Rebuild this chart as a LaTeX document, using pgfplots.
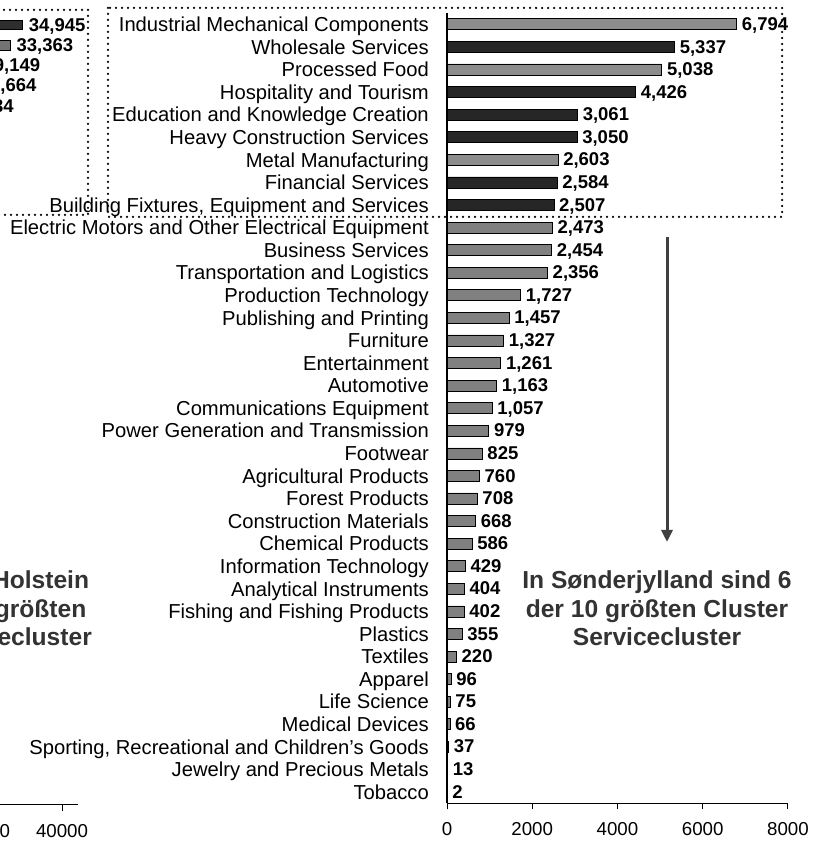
\documentclass[border=0pt]{standalone}
\usepackage{fontspec}
\setmainfont{Liberation Sans}
\usepackage{pgfplots}
\pgfplotsset{compat=1.18}
\usetikzlibrary{arrows.meta}
\begin{document}
\begin{tikzpicture}
\useasboundingbox (0,0) rectangle (828bp,843bp);
\clip (0,0) rectangle (828bp,843bp);
\pgfplotsset{
 clustax/.style={
  scale only axis, anchor=south west,
  xbar,
  axis x line=bottom, axis y line=left,
  axis line style={-, line width=1.1bp, black},
  tick align=outside, major tick length=6bp,
  xtick style={line width=1bp, black},
  ytick style={draw=none},
  scaled x ticks=false,
  /pgf/number format/assume math mode=true,
  /pgf/number format/1000 sep={},
  xticklabel style={font=\fontsize{18.7bp}{20bp}\selectfont, inner sep=0pt, text height=13.4bp, text depth=0pt, yshift=-13bp},
  yticklabel style={font=\fontsize{20.2bp}{22bp}\selectfont, inner sep=0pt, text height=14.5bp, text depth=0pt, xshift=-12bp},
  point meta=x,
  nodes near coords={\pgfmathprintnumber[1000 sep={,}, fixed, precision=0]{\pgfplotspointmeta}},
  every node near coord/.append style={font=\bfseries\fontsize{18.5bp}{20bp}\selectfont, anchor=west, inner sep=0pt, text height=13.3bp, text depth=0pt, xshift=5bp, yshift=0.5bp, text=black},
  clip=false,
 }
}
% left (cut-off) chart
\begin{axis}[clustax, at={(-250bp,38.4bp)}, width=328bp, height=789.75bp,
  xmin=0, xmax=42050, ymin=-0.5, ymax=38.5,
  xtick={0,10000,20000,30000,40000}, ytick=\empty, bar width=9.5bp,
  every node near coord/.append style={xshift=1bp}]
\addplot[bar shift=0pt, fill=black!82, draw=black, line width=0.6bp] coordinates {(34945,38)};
\addplot[bar shift=0pt, fill=black!55, draw=black, line width=0.6bp] coordinates {(33363,37) (29149,36) (28664,35) (25734,34)};
\end{axis}
% right chart
\begin{axis}[clustax, at={(447bp,39.7bp)}, width=341bp, height=790.3bp,
  xmin=0, xmax=8000, ymin=-0.5, ymax=34.5,
  xtick={0,2000,4000,6000,8000}, bar width=11bp,
  ytick={0,...,34},
  yticklabels={Tobacco, Jewelry and Precious Metals, {Sporting, Recreational and Children's Goods}, Medical Devices, Life Science, Apparel, Textiles, Plastics, Fishing and Fishing Products, Analytical Instruments, Information Technology, Chemical Products, Construction Materials, Forest Products, Agricultural Products, Footwear, Power Generation and Transmission, Communications Equipment, Automotive, Entertainment, Furniture, Publishing and Printing, Production Technology, Transportation and Logistics, Business Services, Electric Motors and Other Electrical Equipment, {Building Fixtures, Equipment and Services}, Financial Services, Metal Manufacturing, Heavy Construction Services, Education and Knowledge Creation, Hospitality and Tourism, Processed Food, Wholesale Services, Industrial Mechanical Components}]
\addplot[bar shift=0pt, fill=black!45, draw=black, line width=0.6bp] coordinates {(6794,34) (5038,32) (2603,28)};
\addplot[bar shift=0pt, fill=black!85, draw=black, line width=0.6bp] coordinates {(5337,33) (4426,31) (3061,30) (3050,29) (2584,27) (2507,26)};
\addplot[bar shift=0pt, fill=black!50, draw=black, line width=0.6bp] coordinates {(2473,25) (2454,24) (2356,23) (1727,22) (1457,21) (1327,20) (1261,19) (1163,18) (1057,17) (979,16) (825,15) (760,14) (708,13) (668,12) (586,11) (429,10) (404,9) (402,8) (355,7) (220,6) (96,5) (75,4) (66,3) (37,2) (13,1) (2,0)};
\end{axis}
% dotted boxes
\draw[line width=2.5bp, line cap=round, dash pattern=on 0bp off 6bp, black] (-300bp,833bp) rectangle (88bp,628bp);
\draw[line width=2.5bp, line cap=round, dash pattern=on 0bp off 6bp, black] (108bp,835bp) rectangle (782bp,626bp);
% arrow
\draw[line width=3bp, black!75, -{Triangle[width=11bp,length=12bp]}] (667bp,606bp) -- (667bp,301bp);
% annotations
\node[align=center, font=\bfseries\fontsize{24.6bp}{28.5bp}\selectfont, text=black!80] at (657bp,234.5bp) {In Sønderjylland sind 6\\der 10 größten Cluster\\Servicecluster};
\node[align=center, font=\bfseries\fontsize{24.6bp}{28.5bp}\selectfont, text=black!80] at (-38bp,234.5bp) {In Schleswig-Holstein\\sind 4 der 10 größten\\Cluster Servicecluster};
\end{tikzpicture}
\end{document}
